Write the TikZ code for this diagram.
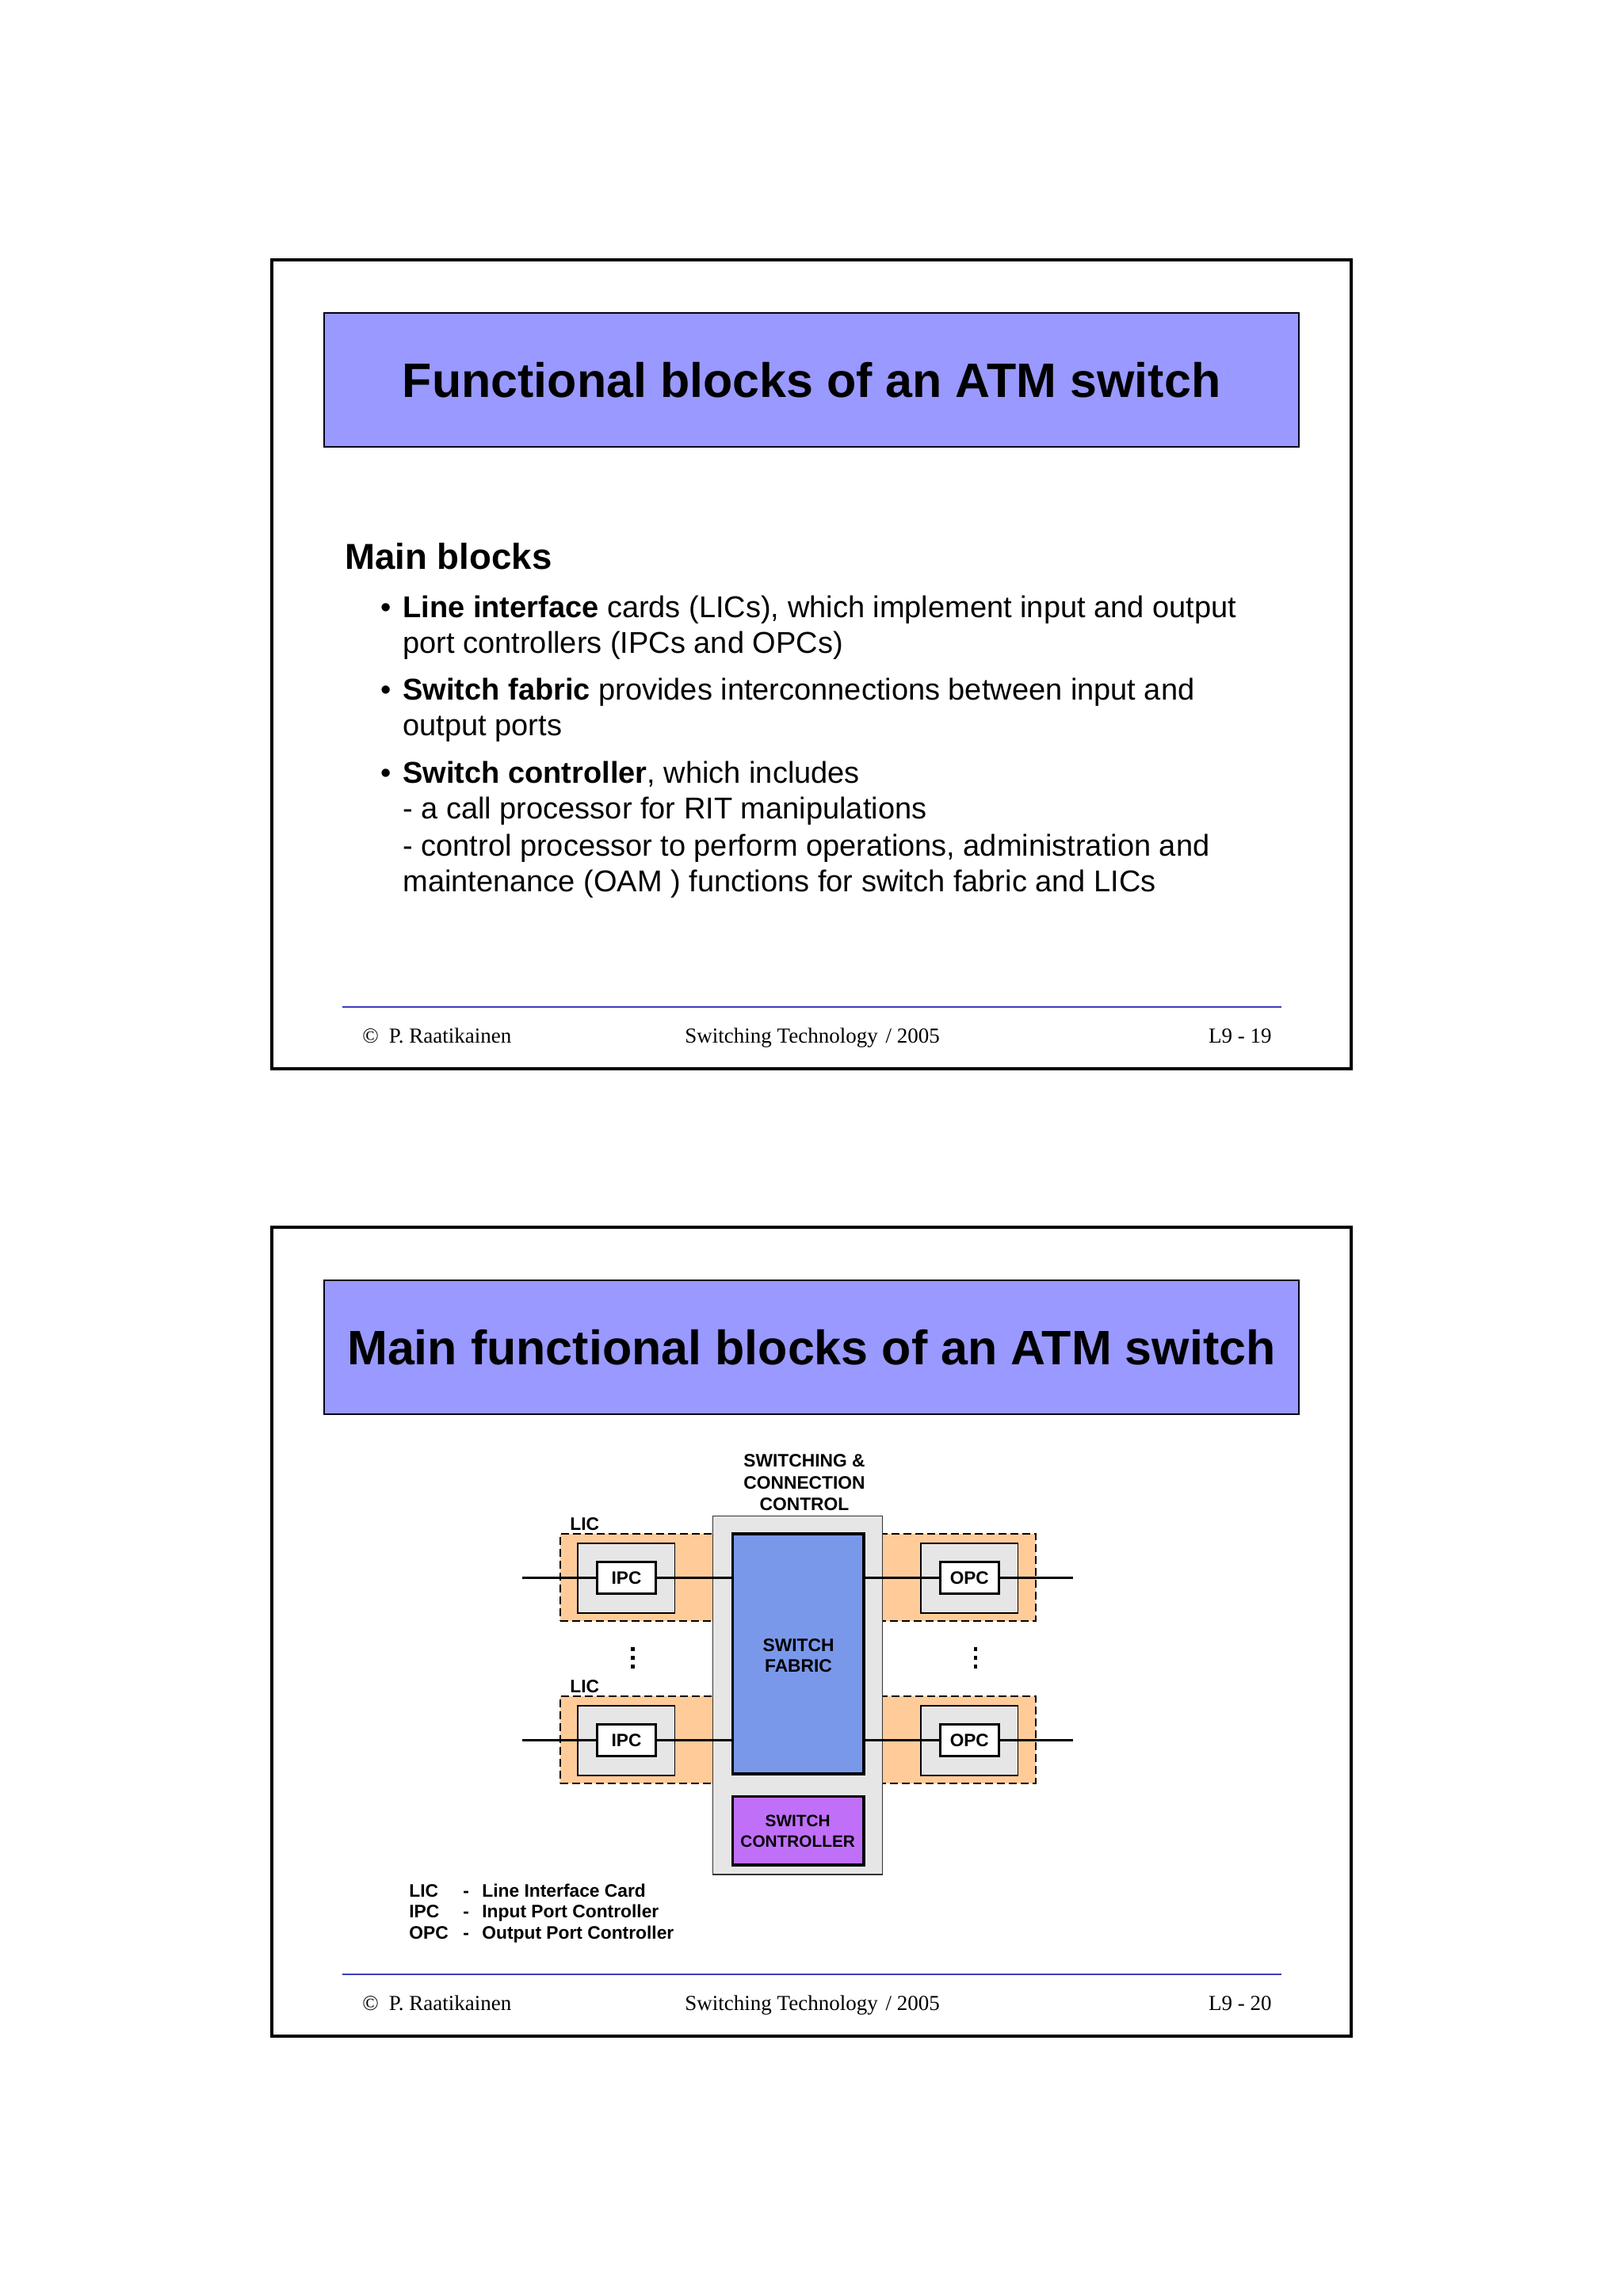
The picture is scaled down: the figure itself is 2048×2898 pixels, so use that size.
\documentclass[tikz,border=0pt]{standalone}
\usepackage{fontspec}
\setmainfont{Liberation Sans}
\newfontfamily\timesf{Liberation Serif}
\definecolor{titlefill}{RGB}{153,153,255}
\definecolor{footblue}{RGB}{60,60,190}
\definecolor{licfill}{RGB}{255,204,153}
\definecolor{grayfill}{RGB}{230,230,230}
\definecolor{fabricfill}{RGB}{122,152,234}
\definecolor{ctrlfill}{RGB}{192,112,248}
\newcommand\myfs[1]{\fontsize{#1}{#1}\selectfont}
\begin{document}
\begin{tikzpicture}[x=0.5pt,y=-0.5pt,
  txt/.style={inner sep=0pt, anchor=base west},
  frame/.style={draw=black, line width=2.15pt},
  titlebox/.style={draw=black!90!blue, line width=0.9pt, fill=titlefill, inner sep=0pt,
     minimum width=615pt, minimum height=84.5pt, font=\bfseries\myfs{30.5}},
  footline/.style={draw=footblue, line width=1pt},
  foot/.style={inner sep=0pt, anchor=base west, font=\timesf\myfs{13.5}},
  body/.style={inner sep=0pt, anchor=base west, font=\myfs{19}},
  lic/.style={draw=black, fill=licfill, line width=1pt, dash pattern=on 5pt off 2.5pt,
     inner sep=0pt, minimum width=99.2pt, minimum height=54.85pt},
  graybox/.style={draw=black, fill=grayfill, line width=0.75pt, inner sep=0pt,
     minimum width=61.3pt, minimum height=44.15pt},
  port/.style={draw=black, fill=white, line width=1.65pt, inner sep=0pt,
     minimum width=37.1pt, minimum height=19.95pt, font=\bfseries\myfs{11.3}},
  dlabel/.style={inner sep=0pt, font=\bfseries\myfs{11.4}},
  clabel/.style={inner sep=0pt, font=\bfseries\myfs{10.4}},
  wire/.style={draw=black, line width=1.5pt},
  vdot/.style={fill=black, draw=none}
]
\useasboundingbox (0,0) rectangle (2048,2898);
\fill[white] (0,0) rectangle (2048,2898);

% ================= Slide 1 =================
\draw[frame] (343,328) rectangle (1705,1349);
\node[titlebox] (t1) at (1024,479.5) {Functional blocks of an ATM switch};

\node[txt, font=\bfseries\myfs{22.8}] (h1) at (435,718) {Main blocks};

\node[body] (b1) at (480.5,779) {\textbullet};
\node[body] (l1) at (508,779) {\textbf{Line interface} cards (LICs), which implement input and output};
\node[body] (l2) at (508,824) {port controllers (IPCs and OPCs)};
\node[body] (b2) at (480.5,883) {\textbullet};
\node[body] (l3) at (508,883) {\textbf{Switch fabric} provides interconnections between input and};
\node[body] (l4) at (508,928) {output ports};
\node[body] (b3) at (480.5,988) {\textbullet};
\node[body] (l5) at (508,988) {\textbf{Switch controller}, which includes};
\node[body] (l6) at (508,1033) {- a call processor for RIT manipulations};
\node[body] (l7) at (508,1080) {- control processor to perform operations, administration and};
\node[body] (l8) at (508,1125) {maintenance (OAM ) functions for switch fabric and LICs};

\draw[footline] (432,1271) -- (1617,1271);
\node[foot] (f1a) at (457,1316) {©\hspace{6.5pt}P. Raatikainen};
\node[foot] (f1b) at (864,1316) {Switching Technology\hspace{1.5pt} / 2005};
\node[foot, anchor=base east] (f1c) at (1605,1316) {L9 - 19};

% ================= Slide 2 =================
\draw[frame] (343,1549) rectangle (1705,2570);
\node[titlebox] (t2) at (1024,1700.5) {Main functional blocks of an ATM switch};

% line interface cards
\node[lic] (licL1) at (806,1990.9) {};
\node[lic] (licR1) at (1207.4,1990.9) {};
\node[lic] (licL2) at (806,2195.9) {};
\node[lic] (licR2) at (1207.4,2195.9) {};

% switching & connection control
\node[draw=black!80, fill=grayfill, line width=0.75pt, inner sep=0pt,
      minimum width=106.9pt, minimum height=226.25pt] (scc) at (1006.6,2139.7) {};
\node[draw=black, fill=fabricfill, line width=1.75pt, inner sep=0pt,
      minimum width=82.75pt, minimum height=151.5pt] (fabric) at (1007.2,2087.5) {};
\node[draw=black, fill=ctrlfill, line width=1.75pt, inner sep=0pt,
      minimum width=82.75pt, minimum height=43.25pt] (ctrl) at (1007.2,2310.7) {};

\node[dlabel, anchor=base] (fab1) at (1007.5,2084.3) {SWITCH};
\node[dlabel, anchor=base] (fab2) at (1007.5,2110) {FABRIC};
\node[clabel, anchor=base] (ctl1) at (1006.7,2305) {SWITCH};
\node[clabel, anchor=base] (ctl2) at (1006.7,2331) {CONTROLLER};

\node[dlabel, anchor=base] (sc1) at (1015,1851) {SWITCHING \&};
\node[dlabel, anchor=base] (sc2) at (1015,1879) {CONNECTION};
\node[dlabel, anchor=base] (sc3) at (1015,1906.5) {CONTROL};

% gray inner card boxes
\node[graybox] (gL1) at (790.3,1991.9) {};
\node[graybox] (gR1) at (1223.2,1991.9) {};
\node[graybox] (gL2) at (790.3,2196.9) {};
\node[graybox] (gR2) at (1223.2,2196.9) {};

% line endpoints
\coordinate (in1) at (659.3,1991.6);
\coordinate (in2) at (659.3,2196.6);
\coordinate (out1) at (1354,1991.6);
\coordinate (out2) at (1354,2196.6);

% port controllers
\node[port] (ipc1) at (790.5,1991.6) {IPC};
\node[port] (ipc2) at (790.5,2196.6) {IPC};
\node[port] (opc1) at (1223.3,1991.6) {OPC};
\node[port] (opc2) at (1223.3,2196.6) {OPC};

% wires
\draw[wire] (in1) -- (ipc1.west);
\draw[wire] (ipc1.east) -- (ipc1.east -| fabric.west);
\draw[wire] (opc1.west -| fabric.east) -- (opc1.west);
\draw[wire] (opc1.east) -- (out1);
\draw[wire] (in2) -- (ipc2.west);
\draw[wire] (ipc2.east) -- (ipc2.east -| fabric.west);
\draw[wire] (opc2.west -| fabric.east) -- (opc2.west);
\draw[wire] (opc2.east) -- (out2);

% LIC labels
\node[dlabel, anchor=base west] (licl1) at (719,1931) {LIC};
\node[dlabel, anchor=base west] (licl2) at (719,2136) {LIC};

% vertical dots
\foreach \xx in {798.3,1231}{
  \foreach \yy in {2081.7,2092.5,2103.3}{
    \fill[vdot] (\xx-2.3,\yy-2.3) rectangle (\xx+2.3,\yy+2.3);
  }
}

% legend
\node[dlabel, anchor=base west] (lg1a) at (516,2394) {LIC};
\node[dlabel, anchor=base west] (lg1b) at (584,2394) {-};
\node[dlabel, anchor=base west] (lg1c) at (608,2394) {Line Interface Card};
\node[dlabel, anchor=base west] (lg2a) at (516,2420.7) {IPC};
\node[dlabel, anchor=base west] (lg2b) at (584,2420.7) {-};
\node[dlabel, anchor=base west] (lg2c) at (608,2420.7) {Input Port Controller};
\node[dlabel, anchor=base west] (lg3a) at (516,2447.3) {OPC};
\node[dlabel, anchor=base west] (lg3b) at (584,2447.3) {-};
\node[dlabel, anchor=base west] (lg3c) at (608,2447.3) {Output Port Controller};

\draw[footline] (432,2492) -- (1617,2492);
\node[foot] (f2a) at (457,2537) {©\hspace{6.5pt}P. Raatikainen};
\node[foot] (f2b) at (864,2537) {Switching Technology\hspace{1.5pt} / 2005};
\node[foot, anchor=base east] (f2c) at (1605,2537) {L9 - 20};
\end{tikzpicture}
\end{document}
